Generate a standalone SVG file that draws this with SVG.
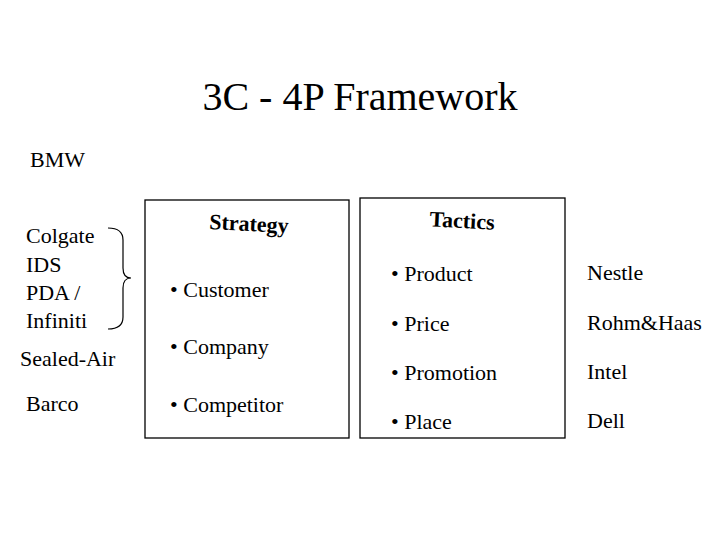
<svg xmlns="http://www.w3.org/2000/svg" width="720" height="540" viewBox="0 0 720 540">
<style>
text{font-family:"Liberation Serif","Times New Roman",serif;fill:#000}
.t{font-size:22px}
.h{font-size:22px;font-weight:bold}
.box{fill:none;stroke:#000;stroke-width:1.3}
</style>
<rect width="720" height="540" fill="#fff"/>
<text x="360" y="110" font-size="40" text-anchor="middle">3C - 4P Framework</text>
<g id="companies" class="t">
<text x="30" y="167" class="t">BMW</text>
<text x="26" y="243" class="t">Colgate</text>
<text x="26" y="272" class="t">IDS</text>
<text x="26" y="300" class="t">PDA /</text>
<text x="26" y="328" class="t">Infiniti</text>
<text x="20" y="366" class="t">Sealed-Air</text>
<text x="26" y="411" class="t">Barco</text>
</g>
<g id="connectors"><path d="M108 228 Q123 228 123 240 L123 268 Q123 278 131 278 Q123 278 123 288 L123 317 Q123 329 108 329" fill="none" stroke="#000" stroke-width="1.2"/></g>
<g id="strategy">
<rect class="box" x="145" y="200" width="204" height="238"/>
<text x="249" y="231" text-anchor="middle" class="h" transform="rotate(3 249 225)">Strategy</text>
<text x="170" y="297" class="t">• Customer</text>
<text x="170" y="354" class="t">• Company</text>
<text x="170" y="412" class="t">• Competitor</text>
</g>
<g id="tactics">
<rect class="box" x="360" y="198" width="205" height="240"/>
<text x="462" y="228" text-anchor="middle" class="h" transform="rotate(3 462 222)">Tactics</text>
<text x="391" y="281" class="t">• Product</text>
<text x="391" y="331" class="t">• Price</text>
<text x="391" y="380" class="t">• Promotion</text>
<text x="391" y="429" class="t">• Place</text>
</g>
<g id="examples">
<text x="587" y="280" class="t">Nestle</text>
<text x="587" y="330" class="t">Rohm&amp;Haas</text>
<text x="587" y="379" class="t">Intel</text>
<text x="587" y="428" class="t">Dell</text>
</g>
</svg>
